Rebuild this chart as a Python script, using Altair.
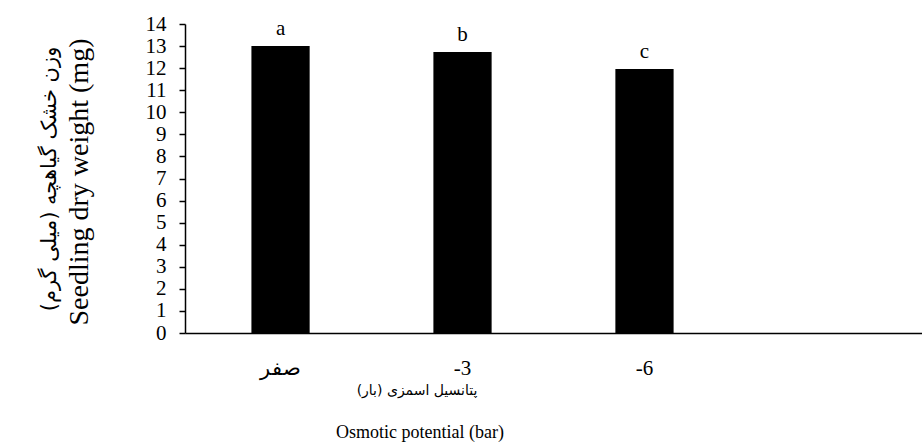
import altair as alt
import pandas as pd

categories = ["صفر", "-3", "-6", " "]
values = [13.0, 12.73, 11.96, None]
letters = ["a", "b", "c", ""]
y_ticks = list(range(15))

df = pd.DataFrame({"cat": categories, "val": values, "lab": letters})
bars_df = df.dropna()

SERIF = "Liberation Serif"
PERSIAN = "DejaVu Sans"

xscale = alt.Scale(domain=categories, paddingInner=0.68, paddingOuter=0.365)
yscale = alt.Scale(domain=[0, 14], nice=False)

bars = alt.Chart(bars_df).mark_bar(color="black").encode(
    x=alt.X("cat:N", scale=xscale, sort=categories,
            axis=alt.Axis(title=None, labelAngle=0, ticks=False, labelPadding=24,
                          labelFont=SERIF, labelFontSize=21)),
    y=alt.Y("val:Q", scale=yscale,
            axis=alt.Axis(title=None, values=y_ticks, grid=False,
                          labelOverlap=False, labelFlush=False,
                          labelFont=SERIF, labelFontSize=21,
                          tickSize=6, labelPadding=13)),
)

labels = bars.mark_text(font=SERIF, fontSize=21, baseline="alphabetic", dy=-11, color="black").encode(
    text="lab:N",
)

one = alt.Chart(pd.DataFrame({"k": [0]}))

ytitle_en = one.mark_text(font=SERIF, fontSize=28, angle=270, color="black",
                          align="center", baseline="middle").encode(
    x=alt.value(-105), y=alt.value(158), text=alt.value("Seedling dry weight (mg)"))
ytitle_fa = one.mark_text(font=PERSIAN, fontSize=21, angle=270, color="black",
                          align="center", baseline="middle").encode(
    x=alt.value(-135), y=alt.value(155), text=alt.value("وزن خشک گیاهچه (میلی گرم)"))
xtitle_fa = one.mark_text(font=PERSIAN, fontSize=14, color="black",
                          align="center", baseline="middle").encode(
    x=alt.value(232), y=alt.value(367), text=alt.value("پتانسیل اسمزی (بار)"))
xtitle_en = one.mark_text(font=SERIF, fontSize=18, color="black",
                          align="center", baseline="middle").encode(
    x=alt.value(235), y=alt.value(409), text=alt.value("Osmotic potential (bar)"))

chart = alt.layer(bars, labels, ytitle_en, ytitle_fa, xtitle_fa, xtitle_en).properties(
    width=737, height=309,
    autosize=alt.AutoSizeParams(type="none"),
    padding={"left": 185, "top": 24, "right": 0, "bottom": 111},
).configure(
    background="white",
    view=alt.ViewConfig(stroke=None),
    axis=alt.AxisConfig(labelFont=SERIF, labelFontSize=21, labelColor="black",
                        domainColor="black", domainWidth=1.5, tickColor="black",
                        tickWidth=1.5),
)

chart.save("out.html", embed_options={"renderer": "svg", "actions": False})
